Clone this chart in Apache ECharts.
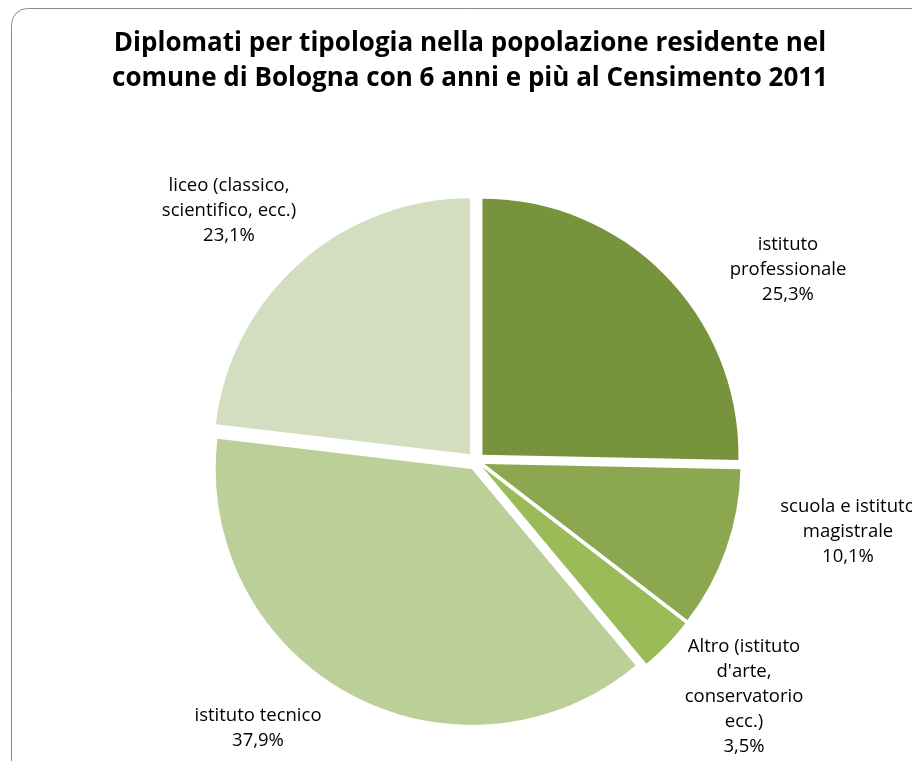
<!DOCTYPE html>
<html>
<head>
<meta charset="utf-8">
<script src="https://cdn.jsdelivr.net/npm/echarts@6/dist/echarts.min.js"></script>
<style>html,body{margin:0;padding:0;background:#fff}#c{width:912px;height:761px}</style>
</head>
<body>
<div id="c"></div>
<script>
const categories = [
  'istituto\nprofessionale',
  'scuola e istituto\nmagistrale',
  "Altro (istituto\nd'arte,\nconservatorio\necc.)",
  'istituto tecnico',
  'liceo (classico,\nscientifico, ecc.)'
];
const values = [25.3, 10.1, 3.5, 37.9, 23.1];
const colors = ['#77933C', '#8BA74F', '#9BBB59', '#BBCF98', '#D3DEC0'];
const labelPos = [[788, 270], [848, 532], [744, 697], [258, 728], [229, 211]];

const chart = echarts.init(document.getElementById('c'), null, {renderer: 'canvas'});
chart.setOption({
  animation: false,
  backgroundColor: '#fff',
  graphic: [
    {type: 'rect', shape: {x: 11.5, y: 8.5, width: 1000, height: 900, r: 16},
     style: {fill: '#fff', stroke: '#8a8a8a', lineWidth: 1}, z: -10},
    {type: 'text', x: 470, y: 26,
     style: {text: 'Diplomati per tipologia nella popolazione residente nel\ncomune di Bologna con 6 anni e più al Censimento 2011',
       textAlign: 'center', fill: '#000', font: 'bold 26px "Open Sans"', lineHeight: 35}}
  ],
  series: [{
    type: 'pie',
    center: [476, 461],
    radius: 256,
    startAngle: 90,
    clockwise: true,
    selectedMode: 'multiple',
    selectedOffset: 9,
    emphasis: {disabled: true},
    itemStyle: {borderWidth: 0},
    label: {show: false},
    labelLine: {show: false},
    data: categories.map((c, i) => ({name: c, value: values[i], selected: true, itemStyle: {color: colors[i]}}))
  }, {
    type: 'pie',
    center: [476, 461],
    radius: 256,
    startAngle: 90,
    silent: true,
    z: 5,
    emphasis: {disabled: true},
    itemStyle: {color: 'rgba(0,0,0,0)', borderWidth: 0},
    label: {
      show: true,
      position: 'outside',
      formatter: p => p.name + '\n' + p.value.toFixed(1).replace('.', ',') + '%',
      fontFamily: 'Open Sans',
      fontSize: 18.5,
      lineHeight: 25,
      color: '#000',
      align: 'center'
    },
    labelLine: {show: false},
    labelLayout: function (params) {
      const p = labelPos[params.dataIndex];
      return {x: p[0], y: p[1], align: 'center', verticalAlign: 'middle'};
    },
    data: categories.map((c, i) => ({name: c, value: values[i]}))
  }]
});
</script>
</body>
</html>
